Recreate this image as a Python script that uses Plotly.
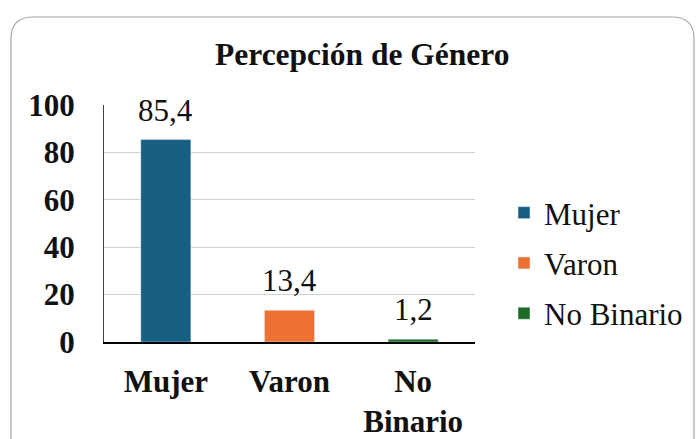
import plotly.graph_objects as go

categories = ["Mujer", "Varon", "No Binario"]
tick_labels = ["Mujer", "Varon", "No<br>Binario"]
values = [85.4, 13.4, 1.2]
colors = ["#175e83", "#ec7133", "#1b6b27"]
y_ticks = [0, 20, 40, 60, 80, 100]

W, H = 698, 439
L, R, T, B = 104, 475, 105, 342
FONT = "Liberation Serif"

def px(x):
    return (x - L) / (R - L)

def py(y):
    return (B - y) / (B - T)

fig = go.Figure()
for i, (c, v, col) in enumerate(zip(categories, values, colors)):
    fig.add_trace(go.Bar(
        x=[tick_labels[i]], y=[v], name=c, marker_color=col,
        width=0.405, legendgroup=c, showlegend=True,
    ))
    fig.add_annotation(
        x=tick_labels[i], y=v, xref="x", yref="y",
        text=f"{v:.1f}".replace(".", ","), showarrow=False,
        yanchor="bottom", yshift=10,
        font=dict(family=FONT, size=31, color="#111111"),
    )

fig.add_annotation(
    x=px(362), y=py(55), xref="paper", yref="paper",
    text="<b>Percepción de Género</b>", showarrow=False,
    xanchor="center", yanchor="middle",
    font=dict(family=FONT, size=31.5, color="#111111"),
)

# rounded border
x0, y0, x1, y1, r = 11, 17, 694, 470, 22
path = (f"M {px(x0+r)},{py(y0)} L {px(x1-r)},{py(y0)} "
        f"Q {px(x1)},{py(y0)} {px(x1)},{py(y0+r)} "
        f"L {px(x1)},{py(y1-r)} Q {px(x1)},{py(y1)} {px(x1-r)},{py(y1)} "
        f"L {px(x0+r)},{py(y1)} Q {px(x0)},{py(y1)} {px(x0)},{py(y1-r)} "
        f"L {px(x0)},{py(y0+r)} Q {px(x0)},{py(y0)} {px(x0+r)},{py(y0)} Z")
fig.add_shape(type="path", path=path, xref="paper", yref="paper",
              line=dict(color="#a6a6a6", width=1.2), layer="below")

fig.update_layout(
    width=W, height=H,
    margin=dict(l=L, r=W - R, t=T, b=H - B, pad=0, autoexpand=False),
    paper_bgcolor="white", plot_bgcolor="white",
    barmode="overlay",
    showlegend=True,
    legend=dict(
        x=px(504), y=py(263), xanchor="left", yanchor="middle",
        font=dict(family=FONT, size=31, color="#111111"),
        tracegroupgap=7, traceorder="grouped",
        bgcolor="rgba(0,0,0,0)",
    ),
    font=dict(family=FONT),
)
fig.update_xaxes(
    showline=True, linecolor="#000000", linewidth=1.5, automargin=False,
    showgrid=False, ticks="", ticklabelstandoff=11,
    tickfont=dict(family=FONT, size=31, color="#111111", weight="bold"),
    fixedrange=True,
)
fig.update_yaxes(
    range=[0, 100], tickvals=y_ticks, showline=True, linecolor="#404040",
    linewidth=1.2, showgrid=True, gridcolor="#d0d0d0", gridwidth=1.2,
    ticks="", ticklabelstandoff=22, zeroline=False, automargin=False,
    tickfont=dict(family=FONT, size=31, color="#111111", weight="bold"),
    fixedrange=True,
)

fig.write_html("out.html", config={"displayModeBar": False},
               post_script="document.body.style.margin='0';document.body.style.overflow='hidden';")
